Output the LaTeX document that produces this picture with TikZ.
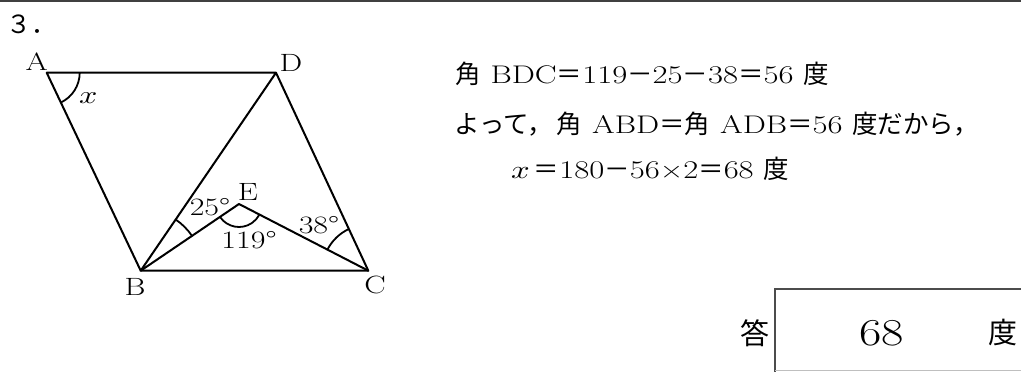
\documentclass[tikz,border=0pt]{standalone}
\usepackage{fontspec}
\newfontfamily\lat[FakeStretch=1.28]{Latin Modern Roman}
\newfontfamily\latm[FakeStretch=1.28]{Latin Modern Math}
\newfontfamily\jp{Noto Sans CJK JP}
\usetikzlibrary{angles}
\newcommand\JJ[1]{{\fontsize{25.5}{30}\selectfont\jp #1}}
\newcommand\XX{{\latm 𝑥}}
\tikzset{
  edge/.style={line width=2pt, line join=round, line cap=round},
  ang/.style={draw, line width=1.8pt},
  lbl/.style={inner sep=0pt, font=\fontsize{25}{30}\selectfont\lat},
  txt/.style={inner sep=0pt, anchor=base west, font=\fontsize{25.5}{30}\selectfont\lat},
}
\begin{document}
\begin{tikzpicture}[x=1pt,y=-1pt]
\useasboundingbox (0,0) rectangle (1021,372);
\draw[line width=1.6pt, black!75] (0,0.8) -- (1021,0.8);
\node[inner sep=0pt, anchor=base west, font=\fontsize{25}{30}\selectfont\jp] (num) at (6,33) {３．};
% points
\coordinate (A) at (46.7,72.7);
\coordinate (D) at (276,72.7);
\coordinate (B) at (140.7,270.7);
\coordinate (C) at (368.3,270.7);
\coordinate (E) at (239,204);
\draw[edge] (B) -- (A) -- (D) -- (C) -- (B) -- (D);
\draw[edge] (B) -- (E) -- (C);
\pic[ang, angle radius=33pt] {angle = B--A--D};
\pic[ang, angle radius=62pt] {angle = E--B--D};
\pic[ang, angle radius=46pt] {angle = D--C--E};
\pic[ang, angle radius=23pt] {angle = B--E--C};
% labels
\node[lbl] (lA) at (36.7,61.7) {A};
\node[lbl] (lD) at (291,63) {D};
\node[lbl] (lB) at (135,286.7) {B};
\node[lbl] (lC) at (375,285) {C};
\node[lbl] (lE) at (248,191.7) {E};
\node[lbl] (lx) at (89,98) {\XX};
\node[lbl] (l25) at (210,207) {25°};
\node[lbl] (l38) at (319,225) {38°};
\node[lbl] (l119) at (249,240) {119°};
% solution text
\node[txt] (t1) at (455,83.3) {\JJ{角} BDC\JJ{＝}119\JJ{－}25\JJ{－}38\JJ{＝}56 \JJ{度}};
\node[txt] (t2) at (454.5,133) {\JJ{よって，}\hspace{4pt}\JJ{角} ABD\JJ{＝角} ADB\JJ{＝}56 \JJ{度だから，}};
\node[txt] (t3) at (511,178) {\XX\hspace{4pt}\JJ{＝}180\JJ{－}56×2\JJ{＝}68 \JJ{度}};
% answer box
\draw[line width=1.3pt, black!70] (1025,289) -- (775,289) -- (775,375);
\draw[line width=1pt, black!25] (775,370.7) -- (1025,370.7);
\node[inner sep=0pt, font=\fontsize{29}{34}\selectfont\jp] (kotae) at (755,333) {答};
\node[inner sep=0pt, font=\fontsize{38}{44}\selectfont\lat] (ans) at (881.7,333) {68};
\node[inner sep=0pt, font=\fontsize{29}{34}\selectfont\jp] (unit) at (1003,333) {度};
\end{tikzpicture}
\end{document}
